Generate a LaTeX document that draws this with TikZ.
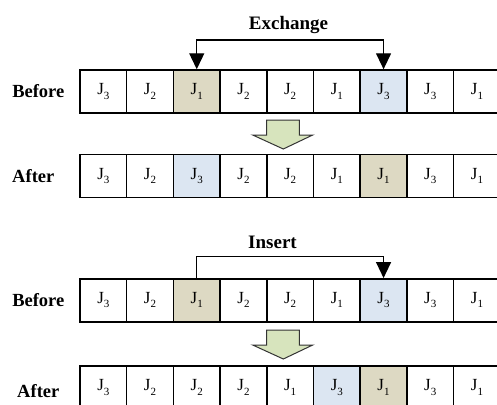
\documentclass[tikz,border=0pt]{standalone}
\usepackage{fontspec}
\setmainfont{Liberation Serif}
\usetikzlibrary{arrows.meta}
\definecolor{tanfill}{HTML}{DDD9C3}
\definecolor{bluefill}{HTML}{DCE6F2}
\definecolor{greenfill}{HTML}{D7E4BD}
% job label with a lowered index
\newcommand\jobtag[1]{J\raisebox{-0.25em}{\fontsize{11}{11}\selectfont #1}}

\begin{document}
\begin{tikzpicture}[x=1pt,y=-1pt,
  cell/.style={draw=black, line width=1.5pt, minimum width=46.7pt,
    minimum height=43pt, inner sep=0pt, font=\fontsize{17}{17}\selectfont},
  rowlabel/.style={font=\bfseries\fontsize{18.5}{18.5}\selectfont},
  oplabel/.style={font=\bfseries\fontsize{19}{19}\selectfont, anchor=base},
  swapline/.style={line width=1.3pt, >={Triangle[width=15pt,length=16pt]}},
  flowmark/.style={draw=black!80, line width=1pt, fill=greenfill}]
\useasboundingbox (0,0) rectangle (497,404);
\clip (0,0) rectangle (497,404);

% ---- exchange move ----
\node[rowlabel] (bl1) at (38.3,91.5) {Before};
\foreach [count=\i] \j/\f in {3/white,2/white,1/tanfill,2/white,2/white,1/white,3/bluefill,3/white,1/white}
  \node[cell, fill=\f] (a\i) at ({80+46.7*(\i-0.5)},91.5) {\jobtag{\j}};

\node[rowlabel] (al1) at (33.3,176) {After};
\foreach [count=\i] \j/\f in {3/white,2/white,3/bluefill,2/white,2/white,1/white,1/tanfill,3/white,1/white}
  \node[cell, fill=\f] (b\i) at ({80+46.7*(\i-0.5)},176) {\jobtag{\j}};

\node[oplabel] (ex-label) at (288.5,29.5) {Exchange};
\coordinate (ex) at (290,40);
\draw[swapline, <->] (a3.north) |- (ex) -| (a7.north);

\draw[flowmark] (266.7,120) -- (299.3,120) -- (299.3,135) -- (312.7,135)
  -- (283.3,149) -- (252.7,135) -- (266.7,135) -- cycle;

% ---- insert move ----
\node[rowlabel] (bl2) at (38.3,300.3) {Before};
\foreach [count=\i] \j/\f in {3/white,2/white,1/tanfill,2/white,2/white,1/white,3/bluefill,3/white,1/white}
  \node[cell, fill=\f] (c\i) at ({80+46.7*(\i-0.5)},300.3) {\jobtag{\j}};

\node[rowlabel] (al2) at (38.3,391) {After};
\foreach [count=\i] \j/\f in {3/white,2/white,2/white,2/white,1/white,3/bluefill,1/tanfill,3/white,1/white}
  \node[cell, fill=\f] (d\i) at ({80+46.7*(\i-0.5)},387.5) {\jobtag{\j}};

\node[oplabel] (in-label) at (272.5,248.3) {Insert};
\coordinate (in) at (290,256.7);
\draw[swapline, ->] (c3.north) |- (in) -| (c7.north);

\draw[flowmark] (266.7,330) -- (299.3,330) -- (299.3,345) -- (312.7,345)
  -- (283.3,359) -- (252.7,345) -- (266.7,345) -- cycle;
\end{tikzpicture}
\end{document}
